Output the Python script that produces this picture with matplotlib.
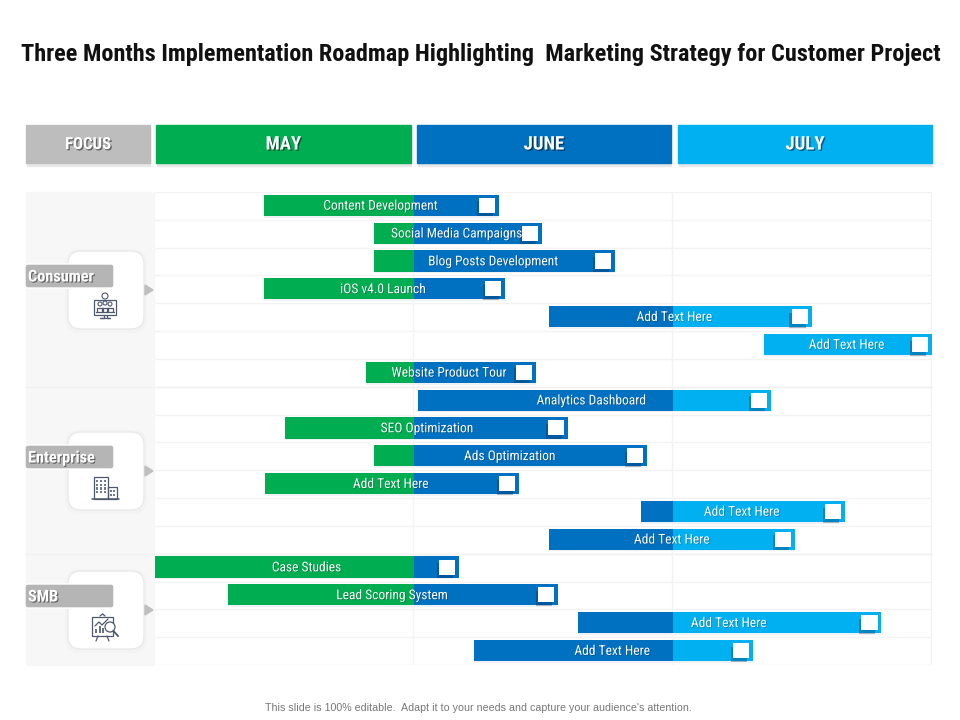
import matplotlib
matplotlib.use("Agg")
import matplotlib.pyplot as plt
import matplotlib.patheffects as pe
from matplotlib import font_manager as fm
from matplotlib.patches import Rectangle, FancyBboxPatch, Polygon, Circle

NARROW = ["Liberation Sans Narrow", "Roboto Condensed", "Open Sans Condensed", "Liberation Sans"]
names = {f.name for f in fm.fontManager.ttflist}
plt.rcParams["font.family"] = [n for n in NARROW if n in names] + ["DejaVu Sans"]

title = "Three Months Implementation Roadmap Highlighting  Marketing Strategy for Customer Project"
footer = "This slide is 100% editable.  Adapt it to your needs and capture your audience's attention."
months = ["MAY", "JUNE", "JULY"]
month_colors = ["#00AD50", "#0070C0", "#00B0F0"]

task_labels = ["Content Development", "Social Media Campaigns", "Blog Posts Development", "iOS v4.0 Launch",
               "Add Text Here", "Add Text Here", "Website Product Tour", "Analytics Dashboard",
               "SEO Optimization", "Ads Optimization", "Add Text Here", "Add Text Here", "Add Text Here",
               "Case Studies", "Lead Scoring System", "Add Text Here", "Add Text Here"]
# in months from the start of May
task_start = [0.42, 0.845, 0.845, 0.42, 1.52, 2.35, 0.815, 1.015, 0.5, 0.845, 0.425, 1.875, 1.52, 0.0, 0.28, 1.635, 1.23]
task_end = [1.33, 1.495, 1.775, 1.35, 2.535, 3.0, 1.47, 2.38, 1.595, 1.9, 1.405, 2.665, 2.47, 1.175, 1.555, 2.805, 2.31]
label_at = [0.87, 1.165, 1.305, 0.88, 2.005, 2.67, 1.135, 1.685, 1.05, 1.37, 0.91, 2.265, 1.995, 0.585, 0.915, 2.215, 1.765]

focus_names = ["Consumer", "Enterprise", "SMB"]
focus_rows = [7, 6, 4]

W, H = 960, 720
ICON = "#4F586C"
fig = plt.figure(figsize=(W / 100, H / 100), dpi=100, facecolor="white")


def px_axes(x0, y0, x1, y1):
    return fig.add_axes([x0 / W, 1 - y1 / H, (x1 - x0) / W, (y1 - y0) / H])


def shadow(off=0.7, alpha=0.45):
    return [pe.withSimplePatchShadow(offset=(off, -off), shadow_rgbFace="black", alpha=alpha)]


def icon_line(xs, ys, lw=0.9):
    page.plot(xs, ys, color=ICON, lw=lw, zorder=5, solid_capstyle="round")


def icon_box(x, y, w, h, lw=0.9):
    page.add_patch(Rectangle((x, y), w, h, fc="none", ec=ICON, lw=lw, zorder=5))


def consumer_icon(cx, cy):
    icon_box(cx - 11, cy - 6, 22, 15)
    icon_line([cx - 9, cx + 9], [cy + 6, cy + 6])
    icon_line([cx - 1.5, cx - 1.5, cx - 5, cx + 5, cx + 1.5, cx + 1.5],
              [cy + 9, cy + 12, cy + 12, cy + 12, cy + 12, cy + 9])
    for dx, dy, r in [(0, -10, 3), (-5, -2, 2), (5, -2, 2), (0, -3, 2)]:
        page.add_patch(Circle((cx + dx, cy + dy), r, fc="white", ec=ICON, lw=0.8, zorder=5))
    for dx in [-5, 0, 5]:
        icon_line([cx + dx - 3, cx + dx - 3, cx + dx + 3, cx + dx + 3], [cy + 6, cy + 2, cy + 2, cy + 6])


def enterprise_icon(cx, cy):
    icon_box(cx - 11, cy - 11, 14, 22)
    icon_box(cx + 3, cy - 1, 9, 12)
    icon_line([cx - 13, cx + 14], [cy + 11, cy + 11], lw=1.1)
    for col in range(3):
        for rw in range(4):
            page.add_patch(Rectangle((cx - 9 + col * 4, cy - 8 + rw * 3.6), 2.4, 2.4, fc=ICON, ec="none", alpha=0.8, zorder=5))
    for col in range(2):
        for rw in range(2):
            page.add_patch(Rectangle((cx + 5 + col * 3, cy + 2 + rw * 3.5), 2, 2, fc=ICON, ec="none", alpha=0.8, zorder=5))


def smb_icon(cx, cy):
    icon_box(cx - 12, cy - 11, 21, 19)
    icon_line([cx - 4, cx - 1.5], [cy - 12, cy - 14])
    icon_line([cx - 1.5, cx + 1], [cy - 14, cy - 12])
    icon_line([cx - 6, cx - 8], [cy + 8, cy + 13])
    icon_line([cx + 3, cx + 5], [cy + 8, cy + 13])
    icon_line([cx - 9, cx - 5, cx - 2, cx + 4], [cy - 2, cy - 6, cy - 3, cy - 9])
    for dx, h in [(-9, 4), (-5.5, 7), (-2, 5)]:
        page.add_patch(Rectangle((cx + dx, cy + 5 - h), 2, h, fc=ICON, ec="none", alpha=0.85, zorder=5))
    page.add_patch(Circle((cx + 6, cy - 1), 5, fc="white", ec=ICON, lw=0.9, zorder=6))
    page.plot([cx + 9.5, cx + 14], [cy + 3, cy + 8], color=ICON, lw=1.3, zorder=6)


page = fig.add_axes([0, 0, 1, 1])
page.set_xlim(0, W)
page.set_ylim(H, 0)
page.axis("off")

page.text(481, 54, title, ha="center", va="center", fontsize=17.5, fontweight="bold", color="#111111")
page.text(478, 708, footer, ha="center", va="center", fontsize=7.7, color="#777777",
          family=["Liberation Sans", "DejaVu Sans"])

headers = [("FOCUS", 26, 150, "#BDBDBD"), (months[0], 156, 411, month_colors[0]),
           (months[1], 417, 671, month_colors[1]), (months[2], 678, 932, month_colors[2])]
for name, x0, x1, col in headers:
    page.add_patch(Rectangle((x0 + 1, 128), x1 - x0 - 1, 38, color="#E8E8E8", zorder=1))
    page.add_patch(Rectangle((x0, 125), x1 - x0, 38, color=col, zorder=2))
    page.text((x0 + x1) / 2, 144.5, name, ha="center", va="center", color="white", fontweight="bold",
              fontsize=12 if name == "FOCUS" else 13.5, zorder=3, path_effects=shadow(1.0))

page.add_patch(Rectangle((26, 192), 128, 473, color="#F7F7F7", zorder=0))

ax = px_axes(155, 192, 932, 665)
ax.patch.set_alpha(0)
ax.set_xlim(0, 3)
ax.set_ylim(len(task_labels), 0)
ax.axis("off")

for r in range(len(task_labels) + 1):
    ax.axhline(r, color="#F3F3F3", lw=1, zorder=0)
for m in range(1, 4):
    ax.axvline(m - 0.005, color="#F3F3F3", lw=1, zorder=0)

BAR_H = 0.76
BOX_W = 0.062
BOX_GAP = 0.0154
for i, (s, e, lab, lx) in enumerate(zip(task_start, task_end, task_labels, label_at)):
    y = i + 0.48
    ax.barh(y + 0.06, e - s, left=s, height=BAR_H, color="#EEF2F5", lw=0, zorder=1)
    for m, col in enumerate(month_colors):
        seg0, seg1 = max(s, m), min(e, m + 1)
        if seg1 > seg0:
            ax.barh(y, seg1 - seg0, left=seg0, height=BAR_H, color=col, lw=0, zorder=2)
    ax.text(lx, y + 0.03, lab, ha="center", va="center", color="white", fontsize=9.7, zorder=4,
            path_effects=shadow(0.5, 0.3))
    box_left = e - BOX_GAP - BOX_W
    ax.barh(y + 0.13, BOX_W, left=box_left - 0.008, height=0.54, color="#00204A", alpha=0.3, lw=0, zorder=3)
    ax.barh(y, BOX_W, left=box_left, height=0.54, color="white", lw=0, zorder=3)

row = 0
card_centres = [290, 471, 610]
icons = [(consumer_icon, 105, 306), (enterprise_icon, 105, 488), (smb_icon, 104, 628)]
for name, n, cy, (draw_icon, ix, iy) in zip(focus_names, focus_rows, card_centres, icons):
    if row:
        ax.plot([-0.5, 3], [row, row], color="#F1F1F1", lw=1, clip_on=False, zorder=0)
    row += n
    page.add_patch(FancyBboxPatch((65, cy - 41), 82, 84, boxstyle="round,pad=0,rounding_size=15",
                                  fc="#F3F3F3", ec="none", zorder=1))
    page.add_patch(FancyBboxPatch((68, cy - 39), 76, 78, boxstyle="round,pad=0,rounding_size=13",
                                  fc="white", ec="#EAEAEA", lw=1, zorder=2))
    page.add_patch(Polygon([[145, cy - 5], [153, cy], [145, cy + 5]], color="#BFBFBF", zorder=2))
    page.add_patch(FancyBboxPatch((25, cy - 26), 89, 24, boxstyle="round,pad=0,rounding_size=3",
                                  fc="#B5B5B5", ec="white", lw=1, zorder=3))
    page.text(28, cy - 13, name, ha="left", va="center", color="white", fontweight="bold", fontsize=11.7,
              zorder=4, path_effects=shadow(0.8))
    draw_icon(ix, iy)

fig.savefig("out.png", dpi=100, facecolor="white")
